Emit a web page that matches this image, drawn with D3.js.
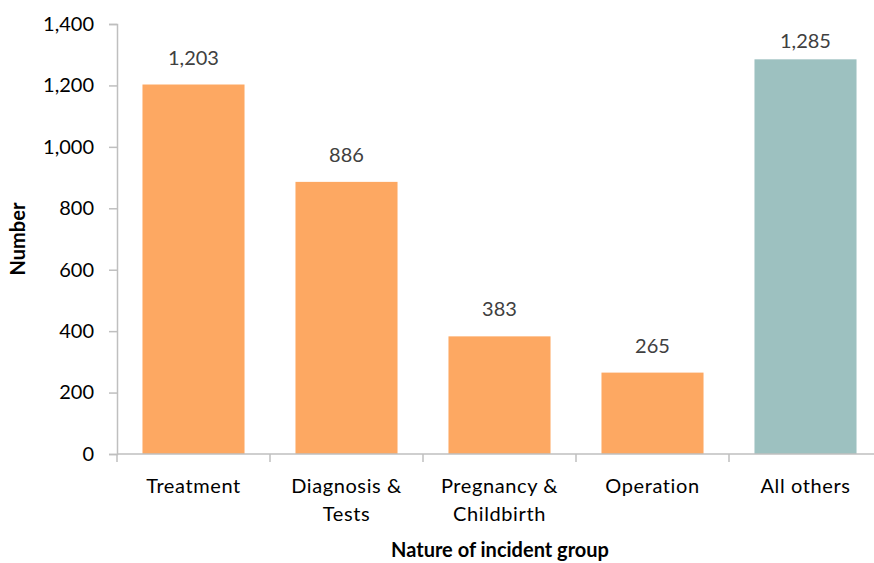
<!DOCTYPE html>
<html><head><meta charset="utf-8">
<script src="https://cdn.jsdelivr.net/npm/d3@7"></script>
<style>body{margin:0;background:#fff}text{font-family:Lato,"Open Sans",sans-serif}</style>
</head><body><svg id="c" width="874" height="563"></svg>
<script>
const categories = [["Treatment"],["Diagnosis &","Tests"],["Pregnancy &","Childbirth"],["Operation"],["All others"]];
const values = [1203, 886, 383, 265, 1285];
const barColors = ["#FDA862","#FDA862","#FDA862","#FDA862","#9DC1C0"];
const yTicks = [0,200,400,600,800,1000,1200,1400];

(function(){
const svg = d3.select("#c");
const mLeft = 117, mRight = 882, mTop = 24, mBottom = 454;
const x = d3.scaleBand().domain(d3.range(categories.length)).range([mLeft, mRight]).paddingInner(0.333).paddingOuter(0.1665);
const xb = d3.scaleBand().domain(d3.range(categories.length)).range([mLeft, mRight]);
const y = d3.scaleLinear().domain([0,1400]).range([mBottom, mTop]);
const fmt = d3.format(",");
const axisCol = "#BFBFBF";

const ya = svg.append("g").attr("transform",`translate(${mLeft},0)`)
  .call(d3.axisLeft(y).tickValues(yTicks).tickFormat(fmt).tickSize(8).tickPadding(15));
ya.select(".domain").attr("stroke",axisCol).attr("stroke-width",1.5);
ya.selectAll(".tick line").attr("stroke",axisCol).attr("stroke-width",1.5);
ya.selectAll(".tick text").attr("font-size",20).attr("fill","#000").style("font-family","Lato,'Open Sans',sans-serif");

svg.selectAll("rect.bar").data(values).join("rect").attr("class","bar")
  .attr("x",(d,i)=>x(i)).attr("width",x.bandwidth())
  .attr("y",d=>y(d)).attr("height",d=>mBottom-y(d))
  .attr("fill",(d,i)=>barColors[i]);

svg.append("line").attr("x1",mLeft).attr("x2",874).attr("y1",mBottom).attr("y2",mBottom).attr("stroke",axisCol).attr("stroke-width",1.5);
svg.selectAll("line.xt").data(d3.range(categories.length+1)).join("line").attr("class","xt")
  .attr("x1",i=>i<categories.length?xb(i):mRight).attr("x2",i=>i<categories.length?xb(i):mRight)
  .attr("y1",mBottom).attr("y2",mBottom+8).attr("stroke",axisCol).attr("stroke-width",1.5);

const cl = svg.selectAll("text.cat").data(categories).join("text").attr("class","cat")
  .attr("text-anchor","middle").attr("font-size",20).attr("letter-spacing","0.6px").attr("fill","#000")
  .attr("x",(d,i)=>xb(i)+xb.bandwidth()/2).attr("y",493);
cl.selectAll("tspan").data(d=>d).join("tspan")
  .attr("x",function(){return this.parentNode.getAttribute("x");})
  .attr("dy",(d,j)=>j===0?0:28).text(d=>d);

svg.selectAll("text.val").data(values).join("text").attr("class","val")
  .attr("text-anchor","middle").attr("font-size",20).attr("fill","#404040")
  .attr("x",(d,i)=>x(i)+x.bandwidth()/2).attr("y",d=>Math.max(y(d)-20,48)).text(d=>fmt(d));

svg.append("text").attr("text-anchor","middle").attr("font-size",20).attr("font-weight","bold")
  .attr("transform","translate(25,239) rotate(-90)").text("Number");
svg.append("text").attr("text-anchor","middle").attr("font-size",20).attr("font-weight","bold")
  .attr("x",500).attr("y",557).text("Nature of incident group");
})();
</script></body></html>
